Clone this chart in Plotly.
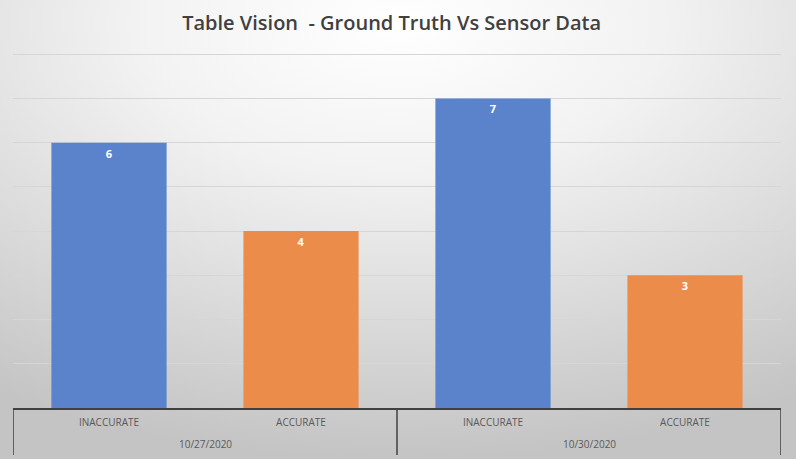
import base64
import plotly.graph_objects as go

# chart data
dates = ["10/27/2020", "10/27/2020", "10/30/2020", "10/30/2020"]
labels = ["INACCURATE", "ACCURATE", "INACCURATE", "ACCURATE"]
counts = [6, 4, 7, 3]
bar_colors = ["#5a83cb", "#eb8c4b", "#5a83cb", "#eb8c4b"]

W, H = 796, 459
ml, mr, mt, mb = 13, 15, 52, 51
pw, ph = W - ml - mr, H - mt - mb

xpos = list(range(len(counts)))

# group centres and group boundaries from the dates list
groups = []
for i, d in enumerate(dates):
    if not groups or groups[-1][0] != d:
        groups.append([d, i, i])
    else:
        groups[-1][2] = i
bounds = [g[1] - 0.5 for g in groups] + [groups[-1][2] + 0.5]

# radial grey background (white at top centre)
svg = (
    '<svg xmlns="http://www.w3.org/2000/svg" width="796" height="459">'
    '<defs><radialGradient id="g" cx="50%" cy="5%" r="95%">'
    '<stop offset="0" stop-color="#ffffff"/>'
    '<stop offset="0.35" stop-color="#f2f2f2"/>'
    '<stop offset="1" stop-color="#c4c4c4"/>'
    '</radialGradient></defs>'
    '<rect width="796" height="459" fill="url(#g)"/></svg>'
)
bg = "data:image/svg+xml;base64," + base64.b64encode(svg.encode()).decode()

fig = go.Figure()
fig.add_trace(go.Bar(
    x=xpos,
    y=counts,
    marker=dict(color=bar_colors, line=dict(width=0)),
    width=0.6,
    text=counts,
    textposition="inside",
    insidetextanchor="end",
    textfont=dict(color="white", size=11, family="Open Sans"),
    texttemplate="<b>%{text}</b>",
    showlegend=False,
    hoverinfo="skip",
))

shapes = []
for b in bounds:
    shapes.append(dict(type="line", xref="x", yref="paper",
                       x0=b, x1=b, y0=0, y1=-47 / ph,
                       line=dict(color="#404040", width=1.5)))

annotations = []
for d, a, z in groups:
    annotations.append(dict(text=d, xref="x", yref="paper",
                            x=(a + z) / 2, y=0, yanchor="middle", yshift=-36,
                            showarrow=False,
                            font=dict(family="Open Sans", size=10, color="#595959")))

fig.update_layout(
    width=W, height=H,
    margin=dict(l=ml, r=mr, t=mt, b=mb, autoexpand=False),
    title=dict(text="Table Vision  - Ground Truth Vs Sensor Data",
               x=0.492, xanchor="center", y=1 - 23 / H, yanchor="middle",
               font=dict(family="Open Sans", size=20, color="#404040", weight=600)),
    paper_bgcolor="white",
    plot_bgcolor="rgba(0,0,0,0)",
    images=[dict(source=bg, xref="paper", yref="paper",
                 x=-ml / pw, y=1 + mt / ph, sizex=W / pw, sizey=H / ph,
                 xanchor="left", yanchor="top", sizing="stretch", layer="below")],
    shapes=shapes,
    annotations=annotations,
)
fig.update_xaxes(
    range=[bounds[0], bounds[-1]],
    tickvals=xpos, ticktext=labels,
    showline=True, linecolor="#404040", linewidth=1.5,
    ticks="", showgrid=False, zeroline=False, automargin=False,
    ticklabelstandoff=4,
    tickfont=dict(family="Open Sans", size=10, color="#595959"),
)
fig.update_yaxes(
    range=[0, 8.05], dtick=1, showticklabels=False,
    showgrid=True, gridcolor="#d6d6d6", gridwidth=1,
    zeroline=False, automargin=False,
)

fig.write_html("out.html", config={"displayModeBar": False},
               post_script="document.body.style.margin='0';")
